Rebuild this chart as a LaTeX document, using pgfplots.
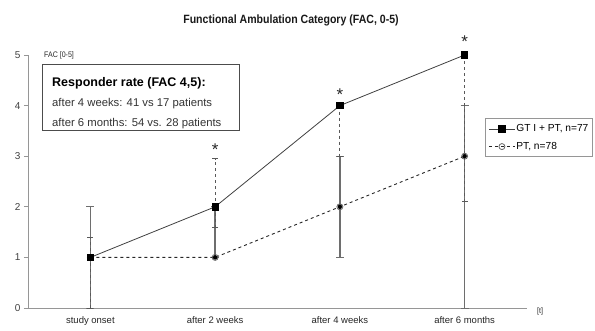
\documentclass[border=0pt]{standalone}
\usepackage{pgfplots}
\pgfplotsset{compat=1.18}
\usepackage{fontspec}
\setmainfont{Liberation Sans}
\newfontfamily\narrowfont[FakeStretch=0.88]{Liberation Sans}
\definecolor{axgray}{RGB}{150,150,150}
\definecolor{ebgray}{RGB}{110,110,110}
\begin{document}
\begin{tikzpicture}
\useasboundingbox (-28pt,-22pt) rectangle (567pt,308pt);
\begin{axis}[
  at={(0pt,0pt)}, anchor=south west,
  scale only axis, width=499pt, height=253pt,
  xmin=-0.5, xmax=3.5, ymin=0, ymax=5,
  axis lines*=left,
  axis line style={axgray, line width=0.9pt},
  xtick={0,1,2,3},
  xticklabels={study onset, after 2 weeks, after 4 weeks, after 6 months},
  x tick label style={font=\fontsize{9.5}{11}\selectfont, text=black!85, yshift=-1pt},
  major x tick style={draw=none},
  ytick={0,1,2,3,4,5},
  y tick label style={font=\fontsize{10}{12}\selectfont, text=black!75},
  major y tick style={axgray, line width=0.8pt},
  tick align=outside, major tick length=4pt,
  /pgf/number format/assume math mode=true,
  clip=false,
  reverse legend,
  legend cell align=left,
  legend style={at={(0.916,0.75)}, anchor=north west, draw=axgray, line width=0.8pt,
    font=\fontsize{10.2}{12}\selectfont, row sep=5pt, inner xsep=3pt, inner ysep=4pt,
    nodes={inner xsep=1pt}},
  legend image code/.code={
    \draw[mark repeat=2,mark phase=2,#1] plot coordinates {(0pt,0pt) (13pt,0pt) (26pt,0pt)};},
]
% error bars PT (solid gray)
\addplot[only marks, mark=none, forget plot,
  error bars/.cd, y dir=both, y explicit, error mark=-,
  error bar style={solid, draw=ebgray, line width=1.3pt},
  error mark options={solid, draw=ebgray, line width=1pt, mark size=4pt, rotate=90}]
  coordinates {
  (0,1) += (0,1) -= (0,1)
  (1,1) += (0,1) -= (0,0)
  (2,2) += (0,1) -= (0,1)
  (3,3) += (0,1) -= (0,3)
  };
% error bars GT (dashed)
\addplot[only marks, mark=none, forget plot,
  error bars/.cd, y dir=both, y explicit, error mark=-,
  error bar style={dashed, draw=black!65, line width=0.9pt},
  error mark options={solid, draw=black!65, line width=0.8pt, mark size=3pt, rotate=90}]
  coordinates {
  (0,1) += (0,0.4) -= (0,1)
  (1,2) += (0,0.95) -= (0,0.4)
  (2,4) += (0,0) -= (0,1)
  (3,5) += (0,0) -= (0,2.9)
  };
% PT
\addplot[black!85, dashed, line width=0.9pt, mark=o,
  mark options={solid, draw=black!60, fill=white, mark size=3pt, line width=0.8pt}]
  coordinates {(0,1) (1,1) (2,2) (3,3)};
\addlegendentry{PT, n=78}
% GT I + PT
\addplot[black!75, solid, line width=0.8pt, mark=square*,
  mark options={solid, fill=black, draw=black, mark size=3.2pt}]
  coordinates {(0,1) (1,2) (2,4) (3,5)};
\addlegendentry{GT I + PT, n=77}
% significance asterisks
\addplot[only marks, mark=none, forget plot,
  nodes near coords={*}, nodes near coords align=center,
  every node near coord/.append style={font=\fontsize{17}{17}\selectfont, text=black!85, inner sep=0pt}]
  coordinates {(1,3.12) (2,4.22) (3,5.26)};
\end{axis}
% title
\node[font=\narrowfont\bfseries\fontsize{12}{14}\selectfont, text=black!90] at (263pt,288pt) {Functional Ambulation Category (FAC, 0-5)};
% y label
\node[font=\narrowfont\fontsize{8}{9}\selectfont, text=black!85, anchor=west, inner sep=0pt] at (16pt,253pt) {FAC [0-5]};
% t label
\node[font=\narrowfont\fontsize{8}{9}\selectfont, text=black!85, anchor=west, inner sep=0pt] at (509pt,-3pt) {[t]};
% responder box
\draw[black!70, line width=1pt] (15pt,177pt) rectangle (211pt,243pt);
\node[font=\bfseries\fontsize{12.5}{14}\selectfont, anchor=base west, inner sep=0pt] at (24pt,221pt) {Responder rate (FAC 4,5):};
\node[font=\fontsize{11.3}{13}\selectfont, text=black!80, anchor=base west, inner sep=0pt] at (24pt,201pt) {after 4 weeks: 41 vs 17 patients};
\node[font=\fontsize{11.3}{13}\selectfont, text=black!80, anchor=base west, inner sep=0pt] at (24pt,181pt) {after 6 months: 54 vs. 28 patients};
\end{tikzpicture}
\end{document}
